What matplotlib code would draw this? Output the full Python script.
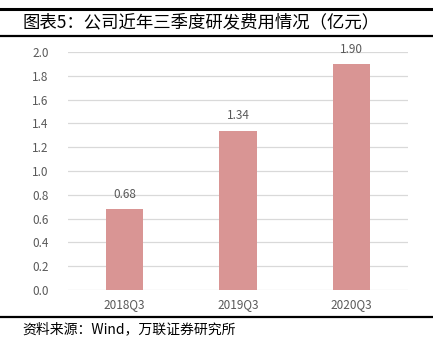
import matplotlib.pyplot as plt
from matplotlib.lines import Line2D

plt.rcParams['font.family'] = ['Noto Sans CJK SC', 'DejaVu Sans']

categories = ["2018Q3", "2019Q3", "2020Q3"]
values = [0.68, 1.34, 1.90]
yticks = [0.0, 0.2, 0.4, 0.6, 0.8, 1.0, 1.2, 1.4, 1.6, 1.8, 2.0]

fig = plt.figure(figsize=(4.33, 3.57), dpi=100)
ax = fig.add_axes([68/433, 1 - 290/357, 340/433, 238/357])

x = range(len(categories))
ax.bar(x, values, width=0.33, color="#D99594", zorder=3)
for i, v in zip(x, values):
    ax.text(i, v + 0.07, f"{v:.2f}", ha="center", va="bottom",
            fontsize=8.5, color="#595959")

ax.set_xlim(-0.5, 2.5)
ax.set_ylim(0, 2.0)
ax.set_yticks(yticks)
ax.set_yticklabels([f"{t:.1f}" for t in yticks])
ax.set_xticks(list(x))
ax.set_xticklabels(categories)
ax.tick_params(axis="both", length=0, labelsize=8.5, labelcolor="#595959")
ax.tick_params(axis="y", pad=14)
ax.tick_params(axis="x", pad=6)
ax.yaxis.grid(True, color="#D9D9D9", linewidth=0.9, zorder=0)
for s in ax.spines.values():
    s.set_visible(False)

# header / footer rules
fig.add_artist(Line2D([0, 1], [1 - 9/357, 1 - 9/357], color="black", linewidth=2.2))
fig.add_artist(Line2D([0, 1], [1 - 36/357, 1 - 36/357], color="black", linewidth=1.6))
fig.add_artist(Line2D([0, 1], [1 - 317/357, 1 - 317/357], color="black", linewidth=1.6))

fig.text(22/433, 1 - 22/357, "图表5：公司近年三季度研发费用情况（亿元）",
         fontsize=12.5, va="center", ha="left", color="black", fontweight="light")
fig.text(22/433, 1 - 329/357, "资料来源：Wind，万联证券研究所",
         fontsize=10, va="center", ha="left", color="black", style="italic")

fig.savefig("out.png", dpi=100)
